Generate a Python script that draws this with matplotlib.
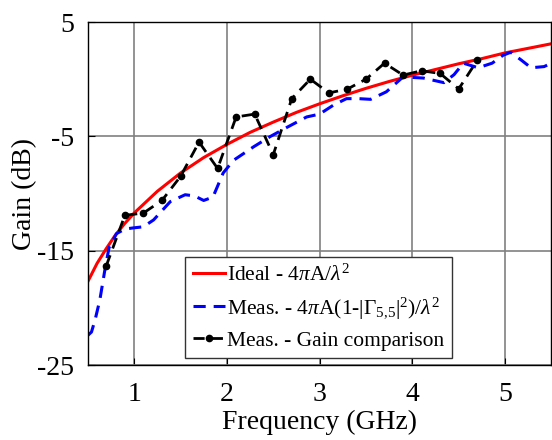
import numpy as np
import matplotlib.pyplot as plt

plt.rcParams['font.family'] = ['Liberation Serif', 'DejaVu Serif']
plt.rcParams['mathtext.fontset'] = 'custom'
plt.rcParams['mathtext.rm'] = 'Liberation Serif'
plt.rcParams['mathtext.it'] = 'Liberation Serif:italic'
plt.rcParams['axes.unicode_minus'] = False

# ideal gain 4*pi*A/lambda^2
f_ideal = [0.5, 0.6, 0.7, 0.8, 0.9, 1.0, 1.25, 1.5, 1.75, 2.0, 2.25, 2.5, 2.75, 3.0,
           3.25, 3.5, 3.75, 4.0, 4.25, 4.5, 4.75, 5.0, 5.25, 5.5]
g_ideal = [-17.7, -16.1, -14.8, -13.6, -12.6, -11.7, -9.8, -8.2, -6.85, -5.7, -4.65,
           -3.75, -2.9, -2.15, -1.45, -0.8, -0.2, 0.35, 0.85, 1.35, 1.8, 2.3, 2.7, 3.1]

# measured with mismatch correction (blue)
f_meas = [0.5, 0.54, 0.58, 0.63, 0.69, 0.73, 0.81, 0.9, 0.99, 1.1, 1.21, 1.3, 1.39,
          1.55, 1.65, 1.75, 1.85, 1.96, 2.07, 2.18, 2.29, 2.47, 2.65, 2.86, 3.0,
          3.15, 3.29, 3.42, 3.55, 3.72, 3.9, 4.12, 4.34, 4.45, 4.55, 4.71, 4.86,
          4.98, 5.06, 5.17, 5.28, 5.42, 5.5]
g_meas = [-22.4, -22.1, -21.0, -19.3, -16.4, -14.7, -13.5, -13.1, -13.0, -12.9,
          -12.3, -11.5, -10.7, -10.1, -10.2, -10.6, -10.3, -8.2, -7.1, -6.5, -5.9,
          -5.0, -4.2, -3.3, -3.05, -2.26, -1.7, -1.7, -1.76, -1.1, 0.2, 0.1, -0.3,
          0.4, 1.4, 1.0, 1.4, 2.1, 2.35, 1.7, 1.0, 1.1, 1.4]

# gain comparison measurement (black)
f_comp = [0.7, 0.9, 1.1, 1.3, 1.5, 1.7, 1.9, 2.1, 2.3, 2.5, 2.7, 2.9, 3.1, 3.3,
          3.5, 3.7, 3.9, 4.1, 4.3, 4.5, 4.7]
g_comp = [-16.3, -11.9, -11.7, -10.6, -8.5, -5.5, -7.8, -3.3, -3.05, -6.6, -1.7,
          0.0, -1.2, -0.86, 0.0, 1.4, 0.36, 0.74, 0.5, -0.85, 1.65]

fig = plt.figure(figsize=(5.52, 4.4), dpi=100)
ax = fig.add_axes([0.159, 0.17, 0.84, 0.78])

ax.plot(f_ideal, g_ideal, color='#ff0000', lw=2.2,
        label=r'Ideal - 4$\pi$A/$\lambda^2$')
ax.plot(f_meas, g_meas, color='#0000ff', lw=2.2, dashes=(4, 2.6),
        label=r'Meas. - 4$\pi$A(1-|$\Gamma_{5{,}5}$|$^2$)/$\lambda^2$')
ax.plot(f_comp, g_comp, color='black', lw=2.0, dashes=(4, 2.6), marker='o',
        markersize=4.5, label='Meas. - Gain comparison')

ax.set_xlim(0.5, 5.5)
ax.set_ylim(-25, 5)
ax.set_xticks([1, 2, 3, 4, 5])
ax.set_yticks([-25, -15, -5, 5])
ax.grid(True, color='#808080', lw=1.2)
ax.tick_params(direction='in', labelsize=20, length=5)
ax.tick_params(axis='x', pad=12)
ax.tick_params(axis='y', pad=10)
for s in ax.spines.values():
    s.set_linewidth(1.0)

ax.set_xlabel('Frequency (GHz)', fontsize=20, labelpad=2)
ax.set_ylabel('Gain (dB)', fontsize=20)
ax.yaxis.set_label_coords(-0.11, 0.5)

leg = ax.legend(loc='lower left', bbox_to_anchor=(0.21, 0.02), fontsize=15.5,
                handlelength=1.5, handletextpad=0.1, borderpad=0.35,
                labelspacing=0.45, borderaxespad=0, fancybox=False,
                framealpha=1)
leg.get_frame().set_edgecolor('#333333')
leg.get_frame().set_linewidth(1.0)

fig.savefig('out.png', dpi=100)
